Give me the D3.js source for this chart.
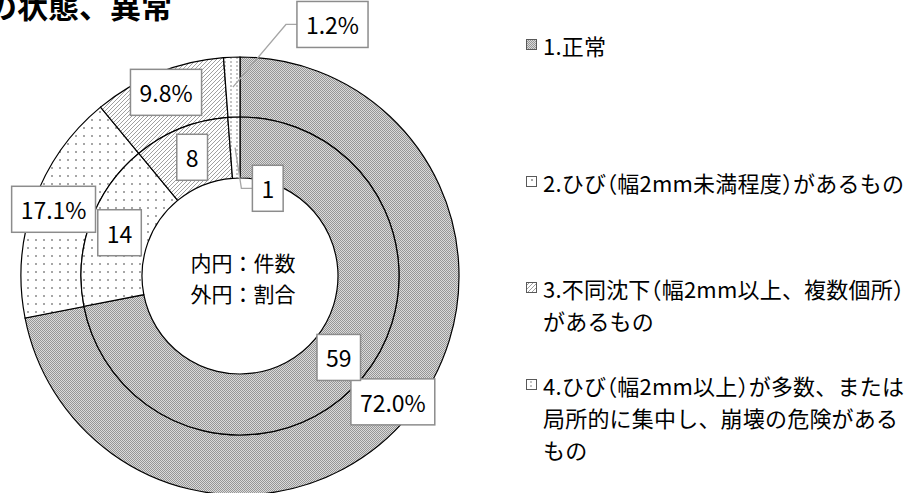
<!DOCTYPE html>
<html>
<head>
<meta charset="utf-8">
<script src="https://cdn.jsdelivr.net/npm/d3@7"></script>
<style>
body { margin: 0; background: #fff; }
svg { display: block; }
</style>
</head>
<body>
<div id="chart"></div>
<script>
// size of the page
let w = 912;
let h = 493;

// data
let categories = ["1.正常", "2.ひび（幅2mm未満程度）があるもの", "3.不同沈下（幅2mm以上、複数個所）があるもの", "4.ひび（幅2mm以上）が多数、または局所的に集中し、崩壊の危険があるもの"];
let legendLines = [
    ["1.正常"],
    ["2.ひび（幅2mm未満程度）があるもの"],
    ["3.不同沈下（幅2mm以上、複数個所）", "があるもの"],
    ["4.ひび（幅2mm以上）が多数、または", "局所的に集中し、崩壊の危険がある", "もの"]
];
let counts = [59, 14, 8, 1];          // inner ring
let shares = [72.0, 17.1, 9.8, 1.2];  // outer ring (%)
let centerLines = ["内円：件数", "外円：割合"];
let titleText = "の状態、異常";

let fontFamily = "'Noto Sans CJK JP', 'Noto Sans', sans-serif";
let cx = 240, cy = 276;
let rHole = 98, rMid = 159, rOuter = 219;
let patternIds = ["pat1", "pat2", "pat3", "pat4"];

let svg = d3.select("#chart")
            .append("svg")
            .attr("width", w)
            .attr("height", h);

// fill patterns
let defs = svg.append("defs");

let p1 = defs.append("pattern").attr("id", "pat1").attr("patternUnits", "userSpaceOnUse")
             .attr("width", 2).attr("height", 2);
p1.append("rect").attr("width", 2).attr("height", 2).attr("fill", "#dadada");
p1.append("rect").attr("width", 1).attr("height", 1).attr("fill", "#969696");
p1.append("rect").attr("x", 1).attr("y", 1).attr("width", 1).attr("height", 1).attr("fill", "#969696");

let p2 = defs.append("pattern").attr("id", "pat2").attr("patternUnits", "userSpaceOnUse")
             .attr("width", 8).attr("height", 8);
p2.append("rect").attr("width", 8).attr("height", 8).attr("fill", "#fff");
p2.append("rect").attr("x", 3).attr("y", 3).attr("width", 2).attr("height", 2).attr("fill", "#a6a6a6");

let p3 = defs.append("pattern").attr("id", "pat3").attr("patternUnits", "userSpaceOnUse")
             .attr("width", 4).attr("height", 4);
p3.append("rect").attr("width", 4).attr("height", 4).attr("fill", "#fff");
p3.append("path").attr("d", "M-1,1 L1,-1 M0,4 L4,0 M3,5 L5,3")
  .attr("stroke", "#a0a0a0").attr("stroke-width", 1);

let p4 = defs.append("pattern").attr("id", "pat4").attr("patternUnits", "userSpaceOnUse")
             .attr("width", 6).attr("height", 4);
p4.append("rect").attr("width", 6).attr("height", 4).attr("fill", "#fff");
p4.append("rect").attr("x", 2).attr("y", 1).attr("width", 2).attr("height", 2).attr("fill", "#c4c4c4");

// title (cut at the left edge like the original)
svg.append("text")
   .attr("x", -14)
   .attr("y", 18)
   .style("font-family", fontFamily)
   .style("font-size", "31px")
   .style("font-weight", "bold")
   .text(titleText);

// rings
let pie = d3.pie().sort(null).value(function(d) { return d; });
let innerArcs = pie(counts);
let outerArcs = pie(shares);

let arcInner = d3.arc().innerRadius(rHole).outerRadius(rMid);
let arcOuter = d3.arc().innerRadius(rMid).outerRadius(rOuter);

let chart = svg.append("g").attr("transform", "translate(" + cx + "," + cy + ")");

chart.selectAll("path.outer")
     .data(outerArcs)
     .enter()
     .append("path")
     .attr("class", "outer")
     .attr("d", arcOuter)
     .attr("fill", function(d, i) { return "url(#" + patternIds[i] + ")"; })
     .attr("stroke", "#000")
     .attr("stroke-width", 1.2);

chart.selectAll("path.inner")
     .data(innerArcs)
     .enter()
     .append("path")
     .attr("class", "inner")
     .attr("d", arcInner)
     .attr("fill", function(d, i) { return "url(#" + patternIds[i] + ")"; })
     .attr("stroke", "#000")
     .attr("stroke-width", 1.2);

// centre note
chart.selectAll("text.center")
     .data(centerLines)
     .enter()
     .append("text")
     .attr("class", "center")
     .attr("x", 3)
     .attr("y", function(d, i) { return -14 + i * 31; })
     .attr("text-anchor", "middle")
     .attr("dominant-baseline", "central")
     .style("font-family", fontFamily)
     .style("font-size", "21px")
     .text(function(d) { return d; });

// data labels
function polar(angle, r) {
    return [Math.sin(angle) * r, -Math.cos(angle) * r];
}

function drawLabels(arcs, labelRadius, arcShape, fmt, calloutTurn, calloutRadius) {
    let labelArc = d3.arc().innerRadius(labelRadius).outerRadius(labelRadius);
    let last = arcs.length - 1;

    arcs.forEach(function(d, i) {
        let pos;
        let mid = (d.startAngle + d.endAngle) / 2;
        if (i == last) {
            pos = polar(mid + calloutTurn, calloutRadius);
        } else {
            pos = labelArc.centroid(d);
        }

        let g = chart.append("g").attr("transform", "translate(" + pos[0] + "," + pos[1] + ")");
        let rect = g.append("rect");
        let txt = g.append("text")
                   .attr("text-anchor", "middle")
                   .attr("dominant-baseline", "central")
                   .style("font-family", fontFamily)
                   .style("font-size", "23px")
                   .text(fmt(d.value));
        let tw = txt.node().getComputedTextLength();
        let bw = tw + 18, bh = 46;
        rect.attr("x", -bw / 2).attr("y", -bh / 2)
            .attr("width", bw).attr("height", bh)
            .attr("fill", "#fff")
            .attr("stroke", "#8c8c8c")
            .attr("stroke-width", 1.5);

        if (i == last) {
            // leader line from slice to box
            let start = arcShape.centroid(d);
            let boxLeft = pos[0] - bw / 2;
            chart.insert("polyline", "g")
                 .attr("points", [start, [boxLeft - 11, pos[1]], [boxLeft, pos[1]]].map(function(p) { return p.join(","); }).join(" "))
                 .attr("fill", "none")
                 .attr("stroke", "#a6a6a6")
                 .attr("stroke-width", 1.3);
        }
    });
}

drawLabels(outerArcs, 198, arcOuter, function(v) { return v.toFixed(1) + "%"; }, 0.39, 268);
drawLabels(innerArcs, 128, arcInner, function(v) { return String(v); }, 0.345, 92);

// legend
let legendTop = [45, 182, 288, 385];
let lineGap = 32;
let legendFont = 22;

let legend = svg.append("g");
legendLines.forEach(function(lines, i) {
    let y0 = legendTop[i];
    legend.append("rect")
          .attr("x", 526.5).attr("y", y0 - 5.5)
          .attr("width", 10).attr("height", 10)
          .attr("fill", "url(#" + patternIds[i] + ")")
          .attr("stroke", "#595959")
          .attr("stroke-width", 1);
    lines.forEach(function(line, j) {
        let t = legend.append("text")
              .attr("x", 543)
              .attr("y", y0 + j * lineGap)
              .attr("dominant-baseline", "central")
              .style("font-family", fontFamily)
              .style("font-size", legendFont + "px")
              .style("letter-spacing", "0.2px");
        // brackets use half-width glyphs, like a proportional gothic
        let parts = line.split(/(（|）)/).filter(function(s) { return s.length > 0; });
        parts.forEach(function(s) {
            let ts = t.append("tspan").text(s);
            if (s == "（" || s == "）") ts.style("font-feature-settings", "'halt'");
        });
    });
});
</script>
</body>
</html>
